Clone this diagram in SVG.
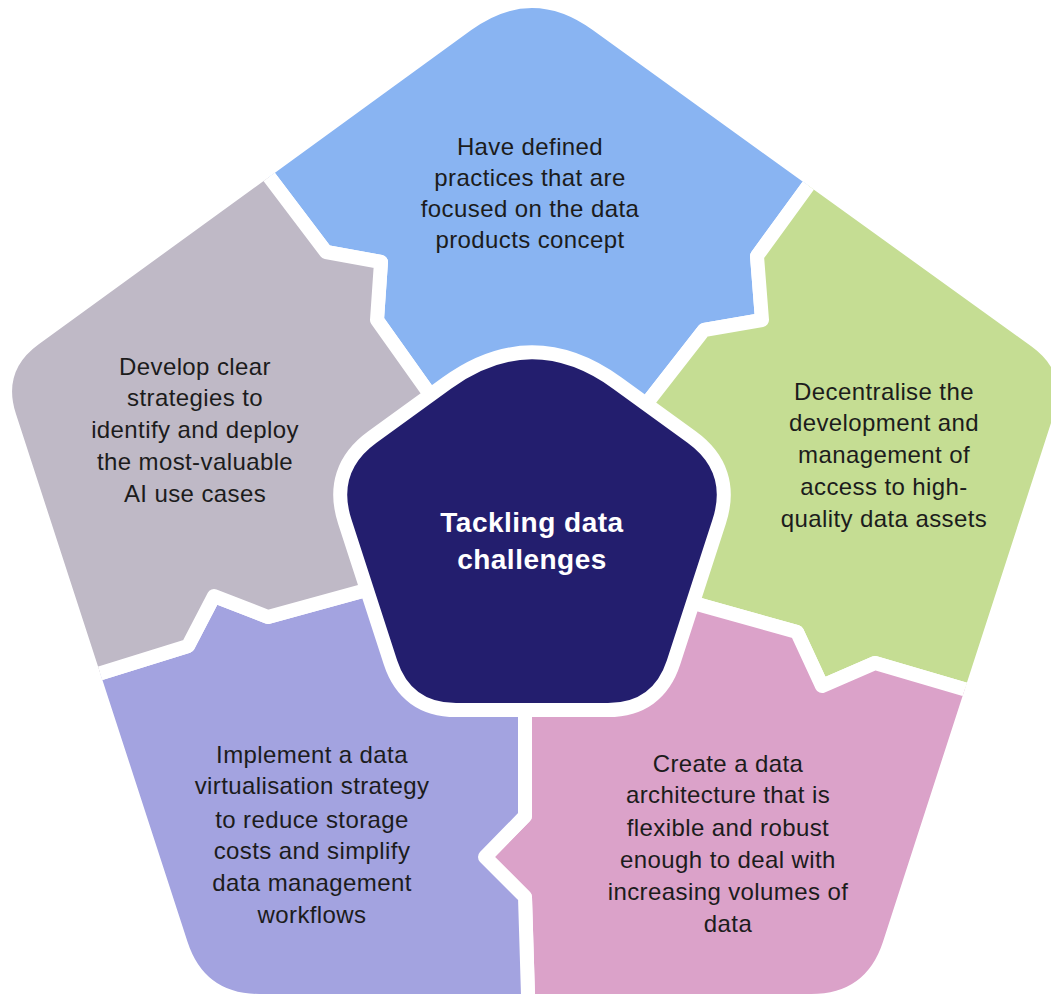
<svg xmlns="http://www.w3.org/2000/svg" width="1051" height="997" viewBox="0 0 1051 997">
  <style>
    .piece { stroke: #ffffff; stroke-width: 14; stroke-linejoin: round; }
    .lbl { font-family: "Liberation Sans", Arial, sans-serif; font-size: 24px; fill: #1c1c1c; text-anchor: middle; letter-spacing: 0.4px; }
    .hub-lbl { font-family: "Liberation Sans", Arial, sans-serif; font-size: 28px; font-weight: bold; fill: #ffffff; text-anchor: middle; letter-spacing: 0.5px; }
  </style>
  <defs>
    <!-- rounded outer pentagon that trims the five segments -->
    <clipPath id="outline">
      <path d="M592.7,30.1 L1031.6,346.6 Q1068,373 1054,413.8 L883,941.7 Q866,994 811,994 L259.5,994 Q204.5,994 187.5,941.7 L15.9,413.8 Q2,371 38.4,344.5 L471.3,30.1 Q532,-14 592.7,30.1 Z"/>
    </clipPath>
  </defs>

  <rect width="1051" height="997" fill="#ffffff"/>

  <!-- top segment -->
  <g id="node-products" clip-path="url(#outline)">
    <path class="piece" fill="#89B4F2" d="M532,536 L491,476 L431,396 L377,320 L381,262 L326,252 L270,178 L222,114 L300,-150 L800,-150 L855,121 L808,186 L757,256 L762,320 L704,330 L647,403 L587,483 Z"/>
    <text class="lbl" x="530"><tspan x="530" y="155">Have defined</tspan><tspan x="530" y="186">practices that are</tspan><tspan x="530" y="217">focused on the data</tspan><tspan x="530" y="248">products concept</tspan></text>
  </g>

  <!-- right segment -->
  <g id="node-decentralise" clip-path="url(#outline)">
    <path class="piece" fill="#C5DD93" d="M532,536 L587,483 L647,403 L704,330 L762,320 L757,256 L808,186 L855,121 L1200,150 L1200,760 L1025,707 L967,690 L875,663 L822,686 L797,632 L704,606 L608,578 Z"/>
    <text class="lbl" x="884"><tspan x="884" y="400">Decentralise the</tspan><tspan x="884" y="431">development and</tspan><tspan x="884" y="463">management of</tspan><tspan x="884" y="495">access to high-</tspan><tspan x="884" y="527">quality data assets</tspan></text>
  </g>

  <!-- lower right segment -->
  <g id="node-architecture" clip-path="url(#outline)">
    <path class="piece" fill="#DBA2C9" d="M532,536 L608,578 L704,606 L797,632 L822,686 L875,663 L967,690 L1025,707 L1200,760 L1100,1100 L528,1100 L528,995 L525,897 L485,857 L525,816 L525,720 L525,640 Z"/>
    <text class="lbl" x="728"><tspan x="728" y="772">Create a data</tspan><tspan x="728" y="803">architecture that is</tspan><tspan x="728" y="836">flexible and robust</tspan><tspan x="728" y="868">enough to deal with</tspan><tspan x="728" y="900">increasing volumes of</tspan><tspan x="728" y="932">data</tspan></text>
  </g>

  <!-- lower left segment -->
  <g id="node-virtualisation" clip-path="url(#outline)">
    <path class="piece" fill="#A3A3E0" d="M532,536 L525,640 L525,720 L525,816 L485,857 L525,897 L528,995 L528,1100 L-100,1100 L-100,700 L21,695 L98,674 L188,646 L214,596 L268,617 L359,592 L455,566 Z"/>
    <text class="lbl" x="312"><tspan x="312" y="763">Implement a data</tspan><tspan x="312" y="794">virtualisation strategy</tspan><tspan x="312" y="828">to reduce storage</tspan><tspan x="312" y="859">costs and simplify</tspan><tspan x="312" y="891">data management</tspan><tspan x="312" y="923">workflows</tspan></text>
  </g>

  <!-- left segment -->
  <g id="node-ai-strategy" clip-path="url(#outline)">
    <path class="piece" fill="#BFB9C6" d="M532,536 L455,566 L359,592 L268,617 L214,596 L188,646 L98,674 L21,695 L-100,700 L-100,-100 L222,114 L270,178 L326,252 L381,262 L377,320 L431,396 L491,476 Z"/>
    <text class="lbl" x="195"><tspan x="195" y="375">Develop clear</tspan><tspan x="195" y="406">strategies to</tspan><tspan x="195" y="438">identify and deploy</tspan><tspan x="195" y="470">the most-valuable</tspan><tspan x="195" y="502">AI use cases</tspan></text>
  </g>

  <!-- central hub with white halo -->
  <g id="node-hub">
    <path fill="#231E6E" stroke="#ffffff" stroke-width="28" stroke-linejoin="round" paint-order="stroke"
          d="M613,388.7 L687.5,442.7 Q728,472 712.5,519.6 L666.9,660.2 Q653,703 608,703 L456,703 Q411,703 397.1,660.2 L351.5,519.6 Q336,472 376.5,442.7 L451,388.7 Q532,330 613,388.7 Z"/>
    <text class="hub-lbl" x="532"><tspan x="532" y="532">Tackling data</tspan><tspan x="532" y="569">challenges</tspan></text>
  </g>

  <!-- segments abut directly; no separate connectors are drawn -->
  <g id="connectors"/>
</svg>
